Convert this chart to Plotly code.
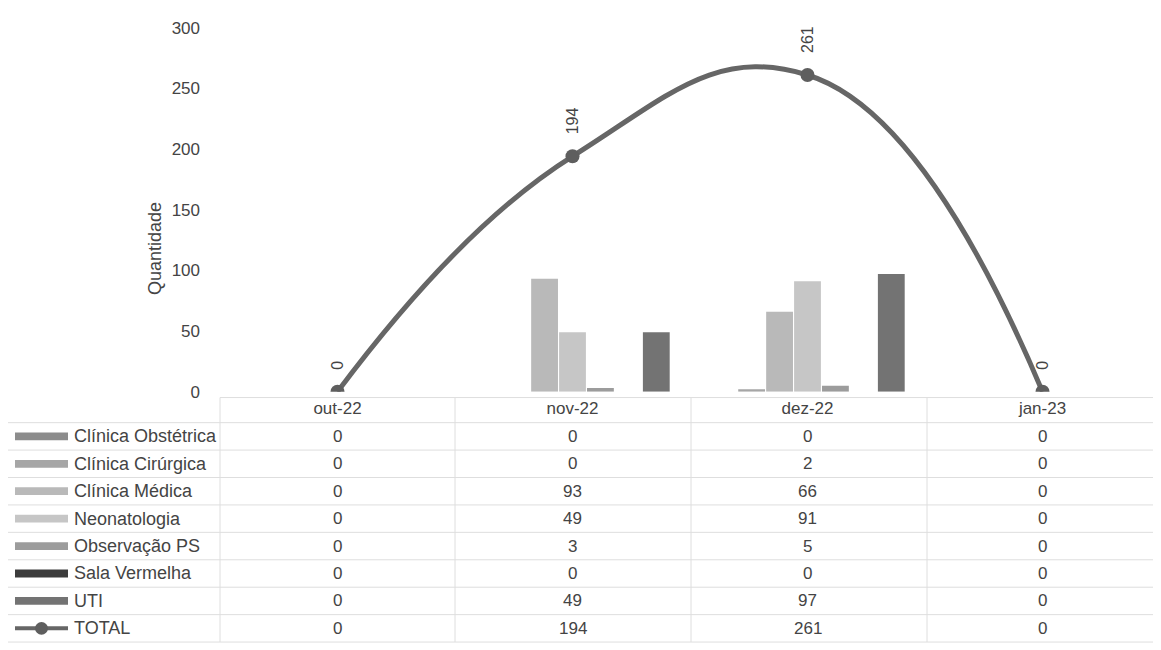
import plotly.graph_objects as go

# ---------------- data ----------------
months = ["out-22", "nov-22", "dez-22", "jan-23"]
clinica_obstetrica = [0, 0, 0, 0]
clinica_cirurgica = [0, 0, 2, 0]
clinica_medica = [0, 93, 66, 0]
neonatologia = [0, 49, 91, 0]
observacao_ps = [0, 3, 5, 0]
sala_vermelha = [0, 0, 0, 0]
uti = [0, 49, 97, 0]
total = [0, 194, 261, 0]

bar_names = ["Clínica Obstétrica", "Clínica Cirúrgica", "Clínica Médica",
             "Neonatologia", "Observação PS", "Sala Vermelha", "UTI"]
bar_values = [clinica_obstetrica, clinica_cirurgica, clinica_medica,
              neonatologia, observacao_ps, sala_vermelha, uti]
total_name = "TOTAL"
y_ticks = [0, 50, 100, 150, 200, 250, 300]
y_title = "Quantidade"

# ---------------- style ----------------
bar_colors = ["#8c8c8c", "#a6a6a6", "#b9b9b9", "#c6c6c6", "#9c9c9c", "#3c3c3c", "#737373"]
line_color = "#666666"
marker_color = "#5e5e5e"
text_color = "#444444"
grid_color = "#dedede"
FONT = "Liberation Sans, Arial, sans-serif"

W, H = 1161, 650
OFF = 8  # page body margin
px_left, px_right = 220, 1160        # plot area (screen pixels)
px_top, px_bottom = 19, 394


def px(x):
    return (x - OFF) / W


def py(y):
    return (H - (y - OFF)) / H


fig = go.Figure()

for name, vals, col in zip(bar_names, bar_values, bar_colors):
    fig.add_trace(go.Bar(x=months, y=vals, name=name,
                         marker=dict(color=col, line=dict(width=0))))

fig.add_trace(go.Scatter(
    x=months, y=total, name=total_name, mode="lines+markers",
    line=dict(color=line_color, width=5, shape="spline", smoothing=1.3),
    marker=dict(color=marker_color, size=14),
))

annotations = []
# rotated data labels on TOTAL line
for m, v in zip(months, total):
    annotations.append(dict(
        x=m, y=v, xref="x", yref="y", text=str(v), showarrow=False,
        textangle=-90, yanchor="bottom", yshift=20,
        font=dict(family=FONT, size=16, color=text_color),
    ))

# y axis title
annotations.append(dict(
    x=px(143), y=py(197), xref="paper", yref="paper", text=y_title, showarrow=False,
    textangle=-90, font=dict(family=FONT, size=18, color=text_color),
))

# ---------------- data table below ----------------
row_y0 = 440
row_h = 28.25
row_names = bar_names + [total_name]
row_values = bar_values + [total]
shapes = []

for i, (name, vals) in enumerate(zip(row_names, row_values)):
    yc = row_y0 + i * row_h
    annotations.append(dict(
        x=px(72), y=py(yc), xref="paper", yref="paper", text=name, showarrow=False,
        xanchor="left", yanchor="middle", font=dict(family=FONT, size=18, color=text_color),
    ))
    for m, v in zip(months, vals):
        annotations.append(dict(
            x=m, y=py(yc), xref="x", yref="paper", text=str(v), showarrow=False,
            yanchor="middle", font=dict(family=FONT, size=17, color=text_color),
        ))
    # legend key
    if i < len(bar_names):
        shapes.append(dict(
            type="rect", xref="paper", yref="paper",
            x0=px(15), x1=px(68), y0=py(yc - 4), y1=py(yc + 4),
            fillcolor=bar_colors[i], line=dict(width=0),
        ))
    else:
        shapes.append(dict(
            type="line", xref="paper", yref="paper",
            x0=px(15), x1=px(68), y0=py(yc), y1=py(yc),
            line=dict(color=line_color, width=4),
        ))
        shapes.append(dict(
            type="circle", xref="paper", yref="paper",
            x0=px(35), x1=px(48), y0=py(yc - 6.5), y1=py(yc + 6.5),
            fillcolor=marker_color, line=dict(width=0),
        ))
    # row separator lines
    shapes.append(dict(
        type="line", xref="paper", yref="paper",
        x0=px(3), x1=px(W), y0=py(yc - row_h / 2), y1=py(yc - row_h / 2),
        line=dict(color=grid_color, width=1),
    ))

table_bottom = row_y0 + (len(row_names) - 0.5) * row_h
shapes.append(dict(
    type="line", xref="paper", yref="paper",
    x0=px(3), x1=px(W), y0=py(table_bottom), y1=py(table_bottom),
    line=dict(color=grid_color, width=1),
))
# vertical column lines
for xb in [px_left, 455, 691, 927]:
    shapes.append(dict(
        type="line", xref="paper", yref="paper",
        x0=px(xb), x1=px(xb), y0=py(px_bottom + 6), y1=py(table_bottom),
        line=dict(color=grid_color, width=1),
    ))
shapes.append(dict(
    type="line", xref="paper", yref="paper",
    x0=px(3), x1=px(3), y0=py(row_y0 - row_h / 2), y1=py(table_bottom),
    line=dict(color=grid_color, width=1),
))
shapes.append(dict(
    type="line", xref="paper", yref="paper",
    x0=px(px_left), x1=px(W), y0=py(px_bottom + 6), y1=py(px_bottom + 6),
    line=dict(color=grid_color, width=1),
))

fig.update_layout(
    width=W, height=H,
    margin=dict(l=0, r=0, t=0, b=0),
    paper_bgcolor="white", plot_bgcolor="white",
    barmode="group", bargap=0.168, bargroupgap=0.04,
    showlegend=False,
    font=dict(family=FONT, size=17, color=text_color),
    xaxis=dict(
        domain=[px(px_left), px(px_right)],
        type="category", categoryorder="array", categoryarray=months,
        showgrid=False, zeroline=False, showline=False,
        ticks="", ticklabelstandoff=4,
        tickfont=dict(family=FONT, size=17, color=text_color),
        range=[-0.5, 3.5],
    ),
    yaxis=dict(
        domain=[py(px_bottom), py(px_top)],
        range=[0, 300], tickvals=y_ticks,
        showgrid=False, zeroline=False, showline=False,
        ticks="", ticklabelstandoff=19,
        tickfont=dict(family=FONT, size=17, color=text_color),
    ),
    annotations=annotations,
    shapes=shapes,
)

fig.write_html("out.html")
